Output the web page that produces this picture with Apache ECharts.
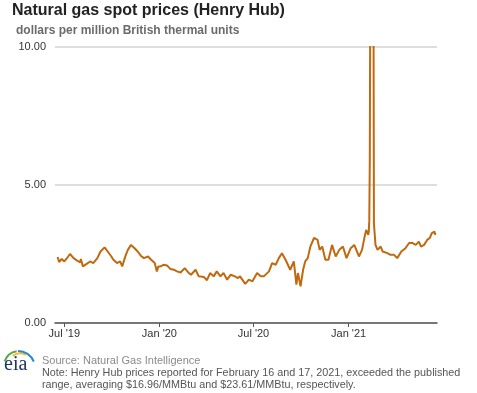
<!DOCTYPE html>
<html>
<head>
<meta charset="utf-8">
<script src="https://cdn.jsdelivr.net/npm/echarts@6/dist/echarts.min.js"></script>
<style>
html,body{margin:0;padding:0;background:#fff;}
#chart{width:477px;height:393px;}
</style>
</head>
<body>
<div id="chart"></div>
<script>
// ---- data ----
const dates = ['2019-06-18','2019-06-21','2019-06-26','2019-07-01','2019-07-05','2019-07-12','2019-07-19','2019-07-25','2019-08-01','2019-08-02','2019-08-06','2019-08-14','2019-08-20','2019-08-26','2019-09-03','2019-09-09','2019-09-17','2019-09-23','2019-09-30','2019-10-04','2019-10-11','2019-10-17','2019-10-21','2019-10-28','2019-11-01','2019-11-07','2019-11-14','2019-11-20','2019-11-26','2019-12-02','2019-12-10','2019-12-16','2019-12-23','2019-12-27','2019-12-30',
'2020-01-03','2020-01-09','2020-01-16','2020-01-22','2020-01-29','2020-02-04','2020-02-11','2020-02-19','2020-02-27','2020-03-02','2020-03-11','2020-03-17','2020-03-27','2020-04-02','2020-04-08','2020-04-15','2020-04-21','2020-04-28','2020-05-04','2020-05-11','2020-05-18','2020-05-26','2020-06-01','2020-06-05','2020-06-15','2020-06-22','2020-06-29','2020-07-08','2020-07-15','2020-07-21','2020-07-31','2020-08-06','2020-08-13','2020-08-19','2020-08-25','2020-09-01','2020-09-10','2020-09-17','2020-09-22','2020-09-25','2020-09-30','2020-10-05','2020-10-09','2020-10-14','2020-10-19','2020-10-26','2020-11-02','2020-11-06','2020-11-11','2020-11-17','2020-11-23','2020-11-30','2020-12-07','2020-12-14','2020-12-21','2020-12-28',
'2021-01-05','2021-01-12','2021-01-21','2021-01-27','2021-02-01','2021-02-04','2021-02-08','2021-02-09','2021-02-10','2021-02-11','2021-02-12','2021-02-16','2021-02-17','2021-02-18','2021-02-19','2021-02-22','2021-02-26','2021-03-04','2021-03-08','2021-03-17','2021-03-23','2021-03-30','2021-04-05','2021-04-13','2021-04-21','2021-04-28','2021-05-04','2021-05-11','2021-05-17','2021-05-21','2021-05-27','2021-06-02','2021-06-07','2021-06-11','2021-06-16','2021-06-18'];
const prices = [2.39,2.21,2.32,2.23,2.32,2.50,2.35,2.27,2.20,2.32,2.05,2.15,2.23,2.17,2.35,2.59,2.74,2.59,2.41,2.29,2.17,2.23,2.05,2.47,2.65,2.83,2.71,2.59,2.44,2.35,2.41,2.29,2.17,1.87,2.05,
2.05,2.11,2.08,1.96,1.93,1.87,1.83,1.99,1.81,1.75,1.93,1.69,1.67,1.55,1.81,1.69,1.87,1.69,1.81,1.57,1.75,1.69,1.63,1.69,1.42,1.57,1.51,1.81,1.69,1.69,1.87,2.17,2.11,2.35,2.53,2.29,1.93,2.23,1.39,1.81,1.33,1.93,2.23,2.35,2.77,3.08,3.01,2.65,2.77,2.29,2.29,2.83,2.41,2.65,2.77,2.35,
2.71,2.83,2.41,2.65,3.13,3.37,3.19,3.30,3.70,5.90,12.50,16.96,23.61,13.00,3.60,2.83,2.65,2.77,2.59,2.53,2.47,2.47,2.35,2.59,2.71,2.90,2.90,2.83,2.95,2.77,2.83,3.01,3.08,3.26,3.31,3.19];
const yTicks = [0, 5, 10];
const monthNames = ['Jan','Feb','Mar','Apr','May','Jun','Jul','Aug','Sep','Oct','Nov','Dec'];
const titleText = 'Natural gas spot prices (Henry Hub)';
const subtitleText = 'dollars per million British thermal units';
const sourceText = 'Source: Natural Gas Intelligence';
const noteText = 'Note: Henry Hub prices reported for February 16 and 17, 2021, exceeded the published\nrange, averaging $16.96/MMBtu and $23.61/MMBtu, respectively.';

const FONT = "'Liberation Sans', Arial, Helvetica, sans-serif";
const seriesData = dates.map((d, i) => [d, prices[i]]);

const chart = echarts.init(document.getElementById('chart'), null, {renderer: 'canvas'});
chart.setOption({
  animation: false,
  backgroundColor: '#ffffff',
  title: [{
    text: titleText,
    left: 12, top: 3, padding: 0,
    textStyle: {fontFamily: FONT, fontSize: 16, fontWeight: 'bold', color: '#222222'}
  }, {
    text: subtitleText,
    left: 16, top: 25, padding: 0,
    textStyle: {fontFamily: FONT, fontSize: 12, fontWeight: 'bold', color: '#6b6b6b'}
  }],
  grid: {left: 55, right: 40, top: 47, bottom: 70, containLabel: false},
  xAxis: {
    type: 'time',
    min: '2019-06-13',
    max: '2021-06-21',
    splitNumber: 4,
    minInterval: 183 * 86400000,
    maxInterval: 183 * 86400000,
    axisLine: {show: true, lineStyle: {color: '#555555', width: 1.5}},
    axisTick: {show: true, length: 4, lineStyle: {color: '#555555', width: 1}},
    splitLine: {show: false},
    axisLabel: {
      fontFamily: FONT, fontSize: 11, color: '#333333', margin: 5,
      showMinLabel: false, showMaxLabel: false,
      formatter: function (v) {
        const d = new Date(v);
        return monthNames[d.getMonth()] + " '" + String(d.getFullYear()).slice(2);
      }
    }
  },
  yAxis: {
    type: 'value',
    min: yTicks[0], max: yTicks[yTicks.length - 1], interval: yTicks[1] - yTicks[0],
    axisLine: {show: false},
    axisTick: {show: false},
    splitLine: {show: true, lineStyle: {color: '#d3d3d3', width: 1.5}},
    axisLabel: {
      fontFamily: FONT, fontSize: 11, color: '#333333', margin: 9,
      formatter: v => v.toFixed(2)
    }
  },
  series: [{
    type: 'line',
    data: seriesData,
    showSymbol: false,
    clip: true,
    lineStyle: {color: '#c0690f', width: 2},
    itemStyle: {color: '#c0690f'}
  }],
  graphic: [
    {type: 'arc', shape: {cx: 19, cy: 366, r: 15, startAngle: Math.PI * 1.1, endAngle: Math.PI * 1.45}, style: {stroke: '#5aa847', lineWidth: 2, fill: null}},
    {type: 'arc', shape: {cx: 20, cy: 366, r: 12.5, startAngle: Math.PI * 1.3, endAngle: Math.PI * 1.65}, style: {stroke: '#f2c12e', lineWidth: 2, fill: null}},
    {type: 'arc', shape: {cx: 18, cy: 368, r: 17, startAngle: Math.PI * 1.5, endAngle: Math.PI * 1.88}, style: {stroke: '#2f86c8', lineWidth: 2, fill: null}},
    {type: 'text', left: 4, top: 355, style: {text: 'eia', fontFamily: "'Liberation Serif','DejaVu Serif',serif", fontSize: 20, fill: '#1d3566'}},
    {type: 'text', left: 42, top: 355, style: {text: sourceText, fontFamily: FONT, fontSize: 11, fill: '#8a8a8a'}},
    {type: 'text', left: 42, top: 367, style: {text: noteText, fontFamily: FONT, fontSize: 10.8, lineHeight: 12, fill: '#555555'}}
  ]
});
</script>
</body>
</html>
